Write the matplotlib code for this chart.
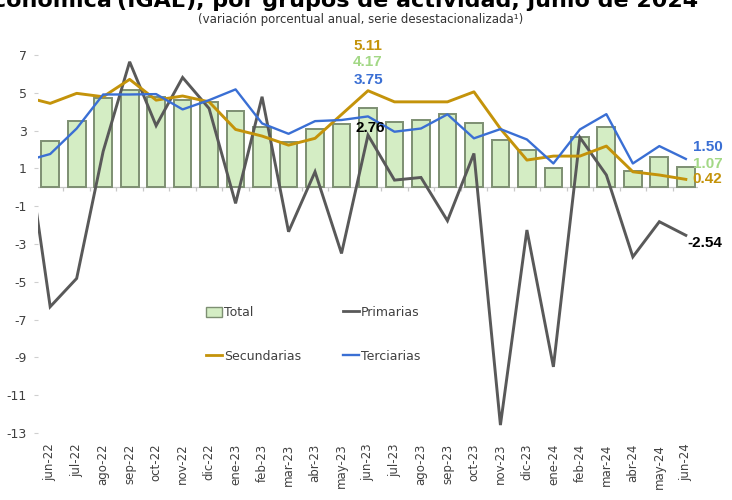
import numpy as np
import matplotlib
matplotlib.use("Agg")
import matplotlib.pyplot as plt
from matplotlib.patches import Patch
from matplotlib.lines import Line2D

# ---------------- data ----------------
meses = ["jun-22", "jul-22", "ago-22", "sep-22", "oct-22", "nov-22", "dic-22",
         "ene-23", "feb-23", "mar-23", "abr-23", "may-23", "jun-23", "jul-23",
         "ago-23", "sep-23", "oct-23", "nov-23", "dic-23", "ene-24", "feb-24",
         "mar-24", "abr-24", "may-24", "jun-24"]

total = [2.46, 3.52, 4.70, 5.14, 4.79, 4.61, 4.52, 4.05, 3.20, 2.40, 3.11, 3.35,
         4.17, 3.47, 3.56, 3.87, 3.38, 2.50, 1.97, 1.00, 2.64, 3.17, 0.85, 1.58, 1.07]

primarias = [-6.32, -4.82, 1.90, 6.64, 3.26, 5.81, 4.17, -0.85, 4.79, -2.35, 0.82,
             -3.50, 2.76, 0.38, 0.52, -1.77, 1.79, -12.58, -2.26, -9.50, 2.64, 0.65,
             -3.68, -1.82, -2.54]

secundarias = [4.44, 4.97, 4.79, 5.71, 4.61, 4.83, 4.52, 3.06, 2.71, 2.23, 2.59,
               3.85, 5.11, 4.52, 4.52, 4.52, 5.05, 3.10, 1.44, 1.65, 1.65, 2.18,
               0.82, 0.65, 0.42]

terciarias = [1.76, 3.11, 4.91, 4.91, 4.93, 4.12, 4.61, 5.18, 3.38, 2.83, 3.50,
              3.56, 3.75, 2.94, 3.11, 3.86, 2.59, 3.08, 2.53, 1.26, 3.06, 3.87,
              1.26, 2.18, 1.50]

# values of the month before jun-22 (may-22); the line segment is clipped at the plot edge
previo_primarias = 3.4
previo_secundarias = 4.8
previo_terciarias = 1.37

yticks = [7, 5, 3, 1, -1, -3, -5, -7, -9, -11, -13]

# ---------------- style ----------------
C_GOLD = "#C4930A"
C_BLUE = "#3A6FD4"
C_GRAY = "#595959"
C_BAR = "#D4EDC4"
C_BAR_EDGE = "#7D8F72"
C_GREEN_TXT = "#A3D886"
C_TXT = "#404040"

W, H = 732, 500
fig = plt.figure(figsize=(W / 100, H / 100), dpi=100)
ax = fig.add_axes([38 / W, 1 - 436.8 / H, (698 - 38) / W, (436.8 - 51.2) / H])

x = np.arange(len(meses))
xl = np.arange(-1, len(meses))

ax.bar(x, total, width=0.67, color=C_BAR, edgecolor=C_BAR_EDGE, linewidth=1.4, zorder=2)

ax.plot(xl, [previo_primarias] + primarias, color=C_GRAY, lw=2.1, zorder=3,
        solid_joinstyle="miter")
ax.plot(xl, [previo_secundarias] + secundarias, color=C_GOLD, lw=2.1, zorder=4,
        solid_joinstyle="round")
ax.plot(xl, [previo_terciarias] + terciarias, color=C_BLUE, lw=1.7, zorder=5,
        solid_joinstyle="round")

ax.set_xlim(-0.46, 24.46)
ax.set_ylim(-13.2, 7.2)

for s in ax.spines.values():
    s.set_visible(False)

# category axis at zero
ax.axhline(0, color="#C8C8C8", lw=0.9, zorder=1)
ax.vlines(x[:-1] + 0.5, -0.22, 0, color="#C8C8C8", lw=0.9, zorder=1)

ax.set_yticks(yticks)
ax.set_yticklabels([str(v) for v in yticks])
ax.tick_params(axis="y", length=3, color="#CFCFCF", labelsize=9, labelcolor=C_TXT, pad=5)
ax.set_xticks(x)
ax.set_xticklabels(meses, rotation=90, va="top", ha="center")
ax.tick_params(axis="x", length=0, labelsize=8.5, labelcolor=C_TXT, pad=5)

# ---------------- annotations ----------------
afont = dict(family=["Liberation Sans Narrow", "Liberation Sans"], fontweight="bold",
             fontsize=11)

def note(txt, xi, yv, dx, dy, color, ha="center"):
    ax.annotate(txt, xy=(xi, yv), xytext=(dx, dy), textcoords="offset pixels",
                ha=ha, va="center", color=color, annotation_clip=False, zorder=6, **afont)

i = 12
note("5.11", i, secundarias[i], 0, 45, C_GOLD)
note("4.17", i, total[i], 0, 46.5, C_GREEN_TXT)
note("3.75", i, terciarias[i], 0, 36.5, C_BLUE)
note("2.76", i, primarias[i], 2, 7.5, "black")

j = 24
note("1.50", j, terciarias[j], 7, 12, C_BLUE, ha="left")
note("1.07", j, total[j], 7, 3, C_GREEN_TXT, ha="left")
note("0.42", j, secundarias[j], 7, 0, C_GOLD, ha="left")
note("-2.54", j, primarias[j], 2, -7.5, "black", ha="left")

# ---------------- legend ----------------
handles = [
    Patch(facecolor=C_BAR, edgecolor=C_BAR_EDGE, linewidth=1.0),
    Line2D([], [], color=C_GOLD, lw=2.0),
    Line2D([], [], color=C_GRAY, lw=2.0),
    Line2D([], [], color=C_BLUE, lw=1.7),
]
labels = ["Total", "Secundarias", "Primarias", "Terciarias"]
fig.legend(handles, labels, ncol=2, loc="upper left",
           bbox_to_anchor=(206 / W, 1 - 306 / H), frameon=False,
           fontsize=9, handlelength=1.3, handleheight=0.9, handletextpad=0.15,
           columnspacing=3.3, labelspacing=2.45, borderpad=0, borderaxespad=0,
           labelcolor=C_TXT)

# ---------------- titles (the main title is cut by the top edge in the reference) ----------------
tfont = dict(fontsize=16, fontweight="bold", color="black", va="baseline")
fig.text(112 / W, 1 - 7 / H, "Indicador Global de la Actividad Económica", ha="right", **tfont)
fig.text(117 / W, 1 - 7 / H, "(IGAE), por grupos de actividad, junio de 2024", ha="left", **tfont)
fig.text(361 / W, 1 - 19 / H, "(variación porcentual anual, serie desestacionalizada¹)",
         ha="center", va="center", fontsize=8.5, color="#333333")

fig.savefig("out.png", dpi=100)
